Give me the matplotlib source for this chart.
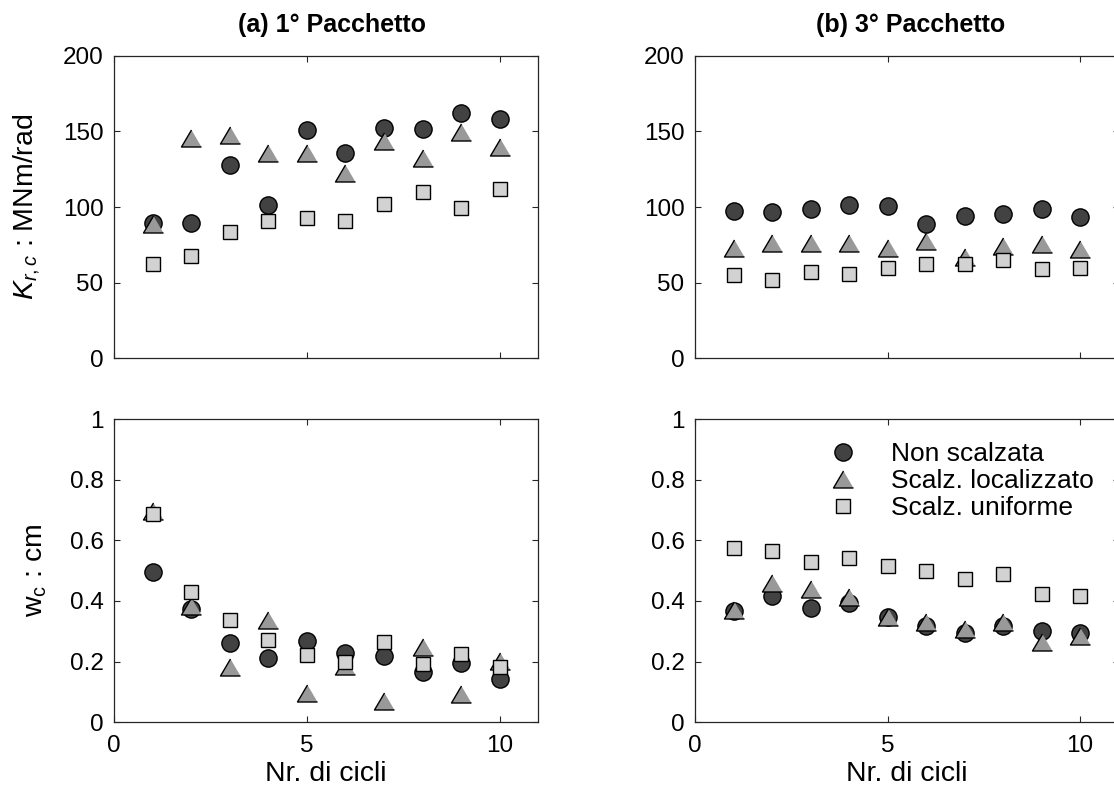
import matplotlib
matplotlib.use("Agg")
import matplotlib.pyplot as plt

plt.rcParams['font.family'] = ['Liberation Sans', 'DejaVu Sans']
plt.rcParams['mathtext.fontset'] = 'custom'
plt.rcParams['mathtext.rm'] = 'Liberation Sans'
plt.rcParams['mathtext.it'] = 'Liberation Sans:italic'

cycles = [1, 2, 3, 4, 5, 6, 7, 8, 9, 10]

# (a) 1° Pacchetto - K_rc [MNm/rad]
k1_non = [89.5, 89.5, 128, 101.5, 150.6, 136, 152, 151.3, 162, 158]
k1_loc = [88.9, 145.7, 147.3, 135.7, 135.4, 122.8, 143.3, 132.6, 149.4, 139.5]
k1_uni = [62.6, 67.5, 83.8, 90.6, 92.4, 90.6, 101.9, 109.6, 99.5, 112]

# (b) 3° Pacchetto - K_rc [MNm/rad]
k3_non = [97.6, 96.7, 98.7, 101.5, 100.9, 88.6, 94.3, 95.2, 98.5, 93.6]
k3_loc = [72.9, 75.9, 75.9, 75.9, 72.9, 77.5, 66.7, 74.3, 75.5, 72.3]
k3_uni = [55.0, 51.7, 56.8, 55.7, 59.9, 62.5, 62.3, 65.2, 58.8, 59.5]

# (a) 1° Pacchetto - w_c [cm]
w1_non = [0.497, 0.373, 0.262, 0.211, 0.267, 0.228, 0.220, 0.167, 0.195, 0.144]
w1_loc = [0.696, 0.385, 0.183, 0.337, 0.097, 0.187, 0.071, 0.248, 0.093, 0.202]
w1_uni = [0.686, 0.431, 0.337, 0.271, 0.222, 0.200, 0.264, 0.192, 0.224, 0.183]

# (b) 3° Pacchetto - w_c [cm]
w3_non = [0.367, 0.417, 0.376, 0.393, 0.347, 0.316, 0.294, 0.319, 0.302, 0.296]
w3_loc = [0.370, 0.459, 0.440, 0.413, 0.348, 0.330, 0.308, 0.331, 0.266, 0.286]
w3_uni = [0.575, 0.564, 0.529, 0.542, 0.515, 0.498, 0.472, 0.490, 0.423, 0.415]

labels = ['Non scalzata', 'Scalz. localizzato', 'Scalz. uniforme']
titles = ['(a) 1° Pacchetto', '(b) 3° Pacchetto']

tri = [(0, 0.85), (-1, -0.85), (1, -0.85)]
styles = [
    dict(marker='o', markersize=12.4, markerfacecolor='#424242'),
    dict(marker=tri, markersize=14.4, markerfacecolor='#999999'),
    dict(marker='s', markersize=9.5, markerfacecolor='#d2d2d2'),
]
for s in styles:
    s.update(linestyle='none', markeredgecolor='black', markeredgewidth=1.0)

fig = plt.figure(figsize=(11.14, 7.87), dpi=100)
W, H = 1114, 787

def add_ax(x0, x1, ytop, ybot):
    return fig.add_axes([x0 / W, 1 - ybot / H, (x1 - x0) / W, (ybot - ytop) / H])

ax_tl = add_ax(114, 538.3, 55.7, 358.3)
ax_tr = add_ax(695, 1118.5, 55.7, 358.3)
ax_bl = add_ax(114, 538.3, 419, 722.3)
ax_br = add_ax(695, 1118.5, 419, 722.3)

panels = [
    (ax_tl, [k1_non, k1_loc, k1_uni], (0, 200), [0, 50, 100, 150, 200], ['0', '50', '100', '150', '200']),
    (ax_tr, [k3_non, k3_loc, k3_uni], (0, 200), [0, 50, 100, 150, 200], ['0', '50', '100', '150', '200']),
    (ax_bl, [w1_non, w1_loc, w1_uni], (0, 1), [0, 0.2, 0.4, 0.6, 0.8, 1], ['0', '0.2', '0.4', '0.6', '0.8', '1']),
    (ax_br, [w3_non, w3_loc, w3_uni], (0, 1), [0, 0.2, 0.4, 0.6, 0.8, 1], ['0', '0.2', '0.4', '0.6', '0.8', '1']),
]

for ax, series, ylim, yt, ytl in panels:
    for vals, st, lab in zip(series, styles, labels):
        ax.plot(cycles, vals, label=lab, clip_on=False, **st)
    ax.set_xlim(0, 11)
    ax.set_ylim(*ylim)
    ax.set_yticks(yt)
    ax.set_yticklabels(ytl)
    ax.set_xticks([0, 5, 10])
    ax.tick_params(direction='in', length=4, width=0.8, top=True, right=True,
                   labelsize=17.5, color='#262626')
    ax.tick_params(axis='y', pad=7.5)
    ax.tick_params(axis='x', pad=9)
    for sp in ax.spines.values():
        sp.set_color('#262626')
        sp.set_linewidth(0.9)

for ax in (ax_tl, ax_tr):
    ax.set_xticklabels([])

for ax in (ax_bl, ax_br):
    ax.set_xticklabels(['0', '5', '10'])
    ax.set_xlabel('Nr. di cicli', fontsize=20.5, labelpad=3)

ax_tl.set_ylabel(r'$K_{r,c}$ : MNm/rad', fontsize=20.5, labelpad=15)
ax_bl.set_ylabel(r'$\mathrm{w}_\mathrm{c}$ : cm', fontsize=20.5, labelpad=15)

fig.text(332 / W, 1 - 25 / H, titles[0], ha='center', va='center', fontsize=18, fontweight='bold')
fig.text(911 / W, 1 - 25 / H, titles[1], ha='center', va='center', fontsize=18, fontweight='bold')

leg = ax_br.legend(loc='upper left', bbox_to_anchor=(825 / W, 1 - 442 / H),
                   bbox_transform=fig.transFigure, frameon=False, fontsize=19,
                   handlelength=1.4, handletextpad=1.1, labelspacing=0.12,
                   borderpad=0, borderaxespad=0)

fig.savefig('out.png', dpi=100)
